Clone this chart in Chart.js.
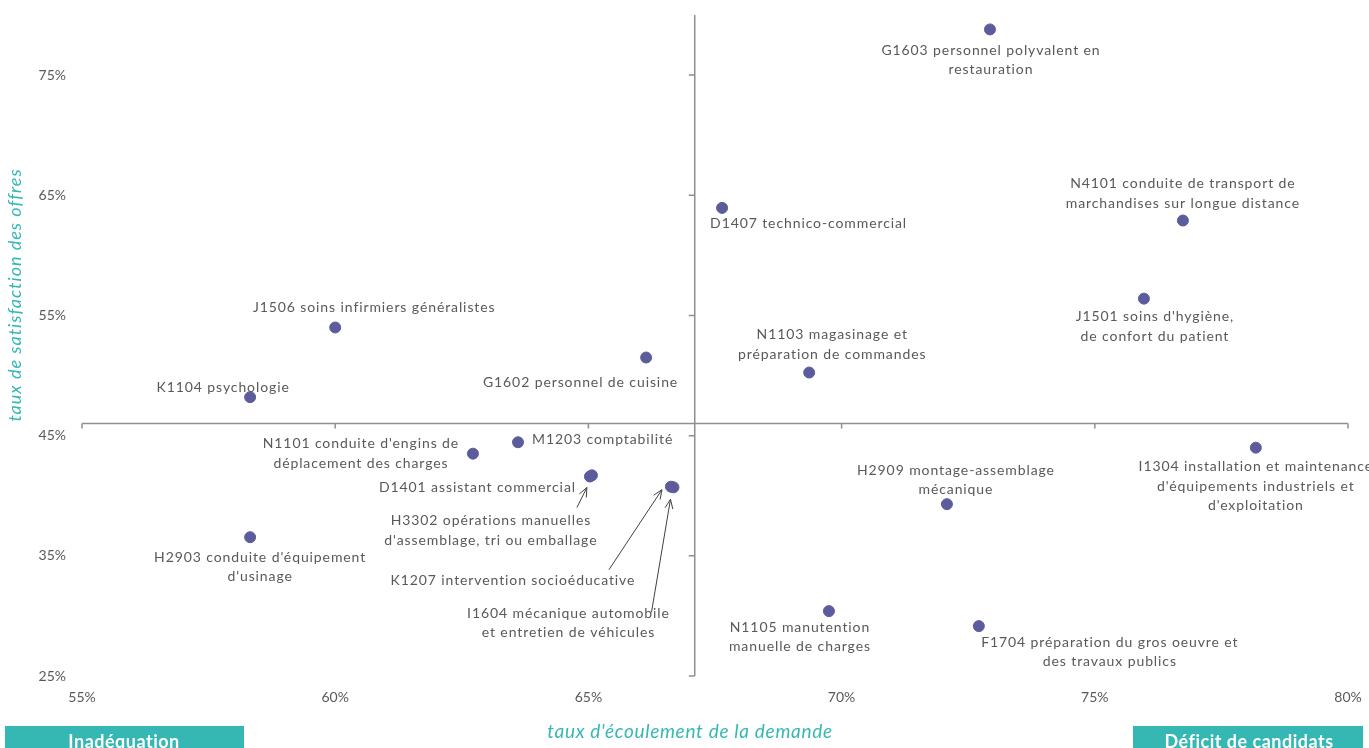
<!DOCTYPE html>
<html>
<head>
<meta charset="utf-8">
<script src="https://cdn.jsdelivr.net/npm/chart.js@4/dist/chart.umd.min.js"></script>
<style>
  html, body { margin: 0; padding: 0; background: #fff; }
  #wrap { width: 1369px; height: 748px; position: relative; }
</style>
</head>
<body>
<div id="wrap"><canvas id="scatter_chart"></canvas></div>
<script>
// métiers (libellés affichés à côté des points)
const jobLabels = [
    ['G1603 personnel polyvalent en', 'restauration'],
    ['N4101 conduite de transport de', 'marchandises sur longue distance'],
    ["J1501 soins d'hygiène,", 'de confort du patient'],
    ['D1407 technico-commercial'],
    ['N1103 magasinage et', 'préparation de commandes'],
    ['J1506 soins infirmiers généralistes'],
    ['K1104 psychologie'],
    ['G1602 personnel de cuisine'],
    ["N1101 conduite d'engins de", 'déplacement des charges'],
    ['M1203 comptabilité'],
    ['D1401 assistant commercial'],
    ['H3302 opérations manuelles', "d'assemblage, tri ou emballage"],
    ['K1207 intervention socioéducative'],
    ['I1604 mécanique automobile', 'et entretien de véhicules'],
    ["H2903 conduite d'équipement", "d'usinage"],
    ['H2909 montage-assemblage', 'mécanique'],
    ['I1304 installation et maintenance', "d'équipements industriels et", "d'exploitation"],
    ['N1105 manutention', 'manuelle de charges'],
    ['F1704 préparation du gros oeuvre et', 'des travaux publics']
];

// taux d'écoulement de la demande (%)
const ecoulement = [72.93, 76.74, 75.97, 67.64, 69.36, 60.0, 58.32, 66.14, 62.72, 63.61,
                    65.07, 65.03, 66.63, 66.68, 58.32, 72.08, 78.18, 69.75, 72.71];
// taux de satisfaction des offres (%)
const satisfaction = [78.8, 62.9, 56.4, 63.95, 50.25, 54.0, 48.2, 51.5, 43.5, 44.45,
                      41.7, 41.6, 40.75, 40.7, 36.55, 39.3, 44.0, 30.4, 29.15];

const xTicks = [55, 60, 65, 70, 75, 80];
const yTicks = [25, 35, 45, 55, 65, 75];
// croisement des axes
const xCross = 67.1;
const yCross = 46;

// position des étiquettes par rapport au point (px), et flèches éventuelles
const labelLayout = [
    { dx: 1, dy: 21, align: 'center' },
    { dx: 0, dy: -37, align: 'center' },
    { dx: 11, dy: 18, align: 'center' },
    { dx: -12, dy: 16, align: 'left' },
    { dx: 23, dy: -38, align: 'center' },
    { dx: 39, dy: -20, align: 'center' },
    { dx: -27, dy: -10, align: 'center' },
    { dx: 32, dy: 25, align: 'right' },
    { dx: -112, dy: -10, align: 'center' },
    { dx: 14, dy: -3, align: 'left' },
    { dx: -16, dy: 12, align: 'right' },
    { dx: -99, dy: 44, align: 'center', arrow: [-13, 31, -3, 11] },
    { dx: -158, dy: 94, align: 'center', arrow: [-62, 83, -9, 3] },
    { dx: -105, dy: 126, align: 'center', arrow: [-22, 125, -3, 12] },
    { dx: 10, dy: 20, align: 'center' },
    { dx: 9, dy: -34, align: 'center' },
    { dx: 0, dy: 19, align: 'center' },
    { dx: -29, dy: 16, align: 'center' },
    { dx: 131, dy: 16, align: 'center' }
];

const TEXT_FONT = '14px Lato';
const TEXT_COLOR = '#595959';
const TEAL = '#35b8b4';
const AXIS_COLOR = '#8f8f8f';

const points = ecoulement.map((x, i) => ({ x: x, y: satisfaction[i] }));

// axes croisés + étiquettes + titres
const overlayPlugin = {
    id: 'overlay',
    beforeDatasetsDraw(chart) {
        const ctx = chart.ctx;
        const xs = chart.scales.x, ys = chart.scales.y;
        const area = chart.chartArea;
        const ax = xs.getPixelForValue(xCross);
        const ay = ys.getPixelForValue(yCross);
        ctx.save();
        ctx.strokeStyle = AXIS_COLOR;
        ctx.lineWidth = 1.5;
        ctx.beginPath();
        ctx.moveTo(ax, area.top);
        ctx.lineTo(ax, area.bottom);
        ctx.moveTo(area.left, ay);
        ctx.lineTo(area.right, ay);
        yTicks.forEach(v => {
            const py = ys.getPixelForValue(v);
            ctx.moveTo(ax - 6, py);
            ctx.lineTo(ax, py);
        });
        xTicks.forEach(v => {
            const px = xs.getPixelForValue(v);
            ctx.moveTo(px, ay);
            ctx.lineTo(px, ay + 5);
        });
        ctx.stroke();
        ctx.restore();
    },
    afterDatasetsDraw(chart) {
        const ctx = chart.ctx;
        const meta = chart.getDatasetMeta(0);
        ctx.save();
        ctx.font = TEXT_FONT;
        ctx.fillStyle = TEXT_COLOR;
        ctx.textBaseline = 'middle';
        ctx.letterSpacing = '0.9px';
        meta.data.forEach((pt, i) => {
            const lay = labelLayout[i];
            ctx.textAlign = lay.align;
            jobLabels[i].forEach((line, k) => {
                ctx.fillText(line, pt.x + lay.dx, pt.y + lay.dy + k * 19.5);
            });
            if (lay.arrow) {
                const [tx, ty, hx, hy] = lay.arrow;
                const x0 = pt.x + tx, y0 = pt.y + ty, x1 = pt.x + hx, y1 = pt.y + hy;
                const ang = Math.atan2(y1 - y0, x1 - x0);
                ctx.strokeStyle = '#404040';
                ctx.lineWidth = 1;
                ctx.beginPath();
                ctx.moveTo(x0, y0);
                ctx.lineTo(x1, y1);
                ctx.moveTo(x1 - 10 * Math.cos(ang - 0.4), y1 - 10 * Math.sin(ang - 0.4));
                ctx.lineTo(x1, y1);
                ctx.lineTo(x1 - 10 * Math.cos(ang + 0.4), y1 - 10 * Math.sin(ang + 0.4));
                ctx.stroke();
            }
        });

        // titres des axes
        ctx.fillStyle = TEAL;
        ctx.textAlign = 'center';
        ctx.font = 'italic 19px Lato';
        ctx.letterSpacing = '0.7px';
        ctx.fillText("taux d'écoulement de la demande", 690, 732);
        ctx.font = 'italic 18px Lato';
        ctx.letterSpacing = '1px';
        ctx.translate(15, 295);
        ctx.rotate(-Math.PI / 2);
        ctx.fillText('taux de satisfaction des offres', 0, 0);
        ctx.restore();

        // encadrés
        ctx.save();
        ctx.fillStyle = TEAL;
        ctx.fillRect(5, 726, 239, 30);
        ctx.fillRect(1133, 726, 230, 30);
        ctx.fillStyle = '#ffffff';
        ctx.font = 'bold 18px Lato';
        ctx.letterSpacing = '0.5px';
        ctx.textAlign = 'center';
        ctx.textBaseline = 'middle';
        ctx.fillText('Inadéquation', 124, 742);
        ctx.fillText('Déficit de candidats', 1249, 742);
        ctx.restore();
    }
};

const scatter_chart = document.getElementById('scatter_chart');
new Chart(scatter_chart, {
    type: 'scatter',
    data: {
        datasets: [{
            data: points,
            backgroundColor: '#5c5c9c',
            borderColor: '#5c5c9c',
            pointRadius: 5.5,
            pointHoverRadius: 5.5
        }]
    },
    options: {
        responsive: true,
        maintainAspectRatio: false,
        animation: false,
        events: [],
        layout: { padding: { top: 15, right: 21, left: 0, bottom: 0 } },
        plugins: {
            legend: { display: false },
            tooltip: { enabled: false }
        },
        scales: {
            x: {
                type: 'linear',
                min: 55,
                max: 80,
                grid: { display: false },
                border: { display: false },
                afterBuildTicks: (scale) => { scale.ticks = xTicks.map(v => ({ value: v })); },
                afterFit: (scale) => {
                    scale.height = 72;
                    scale.paddingLeft = 0;
                    scale.paddingRight = 0;
                },
                ticks: {
                    padding: 5,
                    maxRotation: 0,
                    color: TEXT_COLOR,
                    font: { family: 'Lato', size: 14 },
                    callback: (v) => v + '%'
                }
            },
            y: {
                type: 'linear',
                min: 25,
                max: 80,
                grid: { display: false },
                border: { display: false },
                afterBuildTicks: (scale) => { scale.ticks = yTicks.map(v => ({ value: v })); },
                afterFit: (scale) => {
                    scale.width = 82;
                    scale.paddingTop = 0;
                    scale.paddingBottom = 0;
                },
                ticks: {
                    padding: 8,
                    color: TEXT_COLOR,
                    font: { family: 'Lato', size: 14 },
                    callback: (v) => v + '%'
                }
            }
        }
    },
    plugins: [overlayPlugin]
});
</script>
</body>
</html>
